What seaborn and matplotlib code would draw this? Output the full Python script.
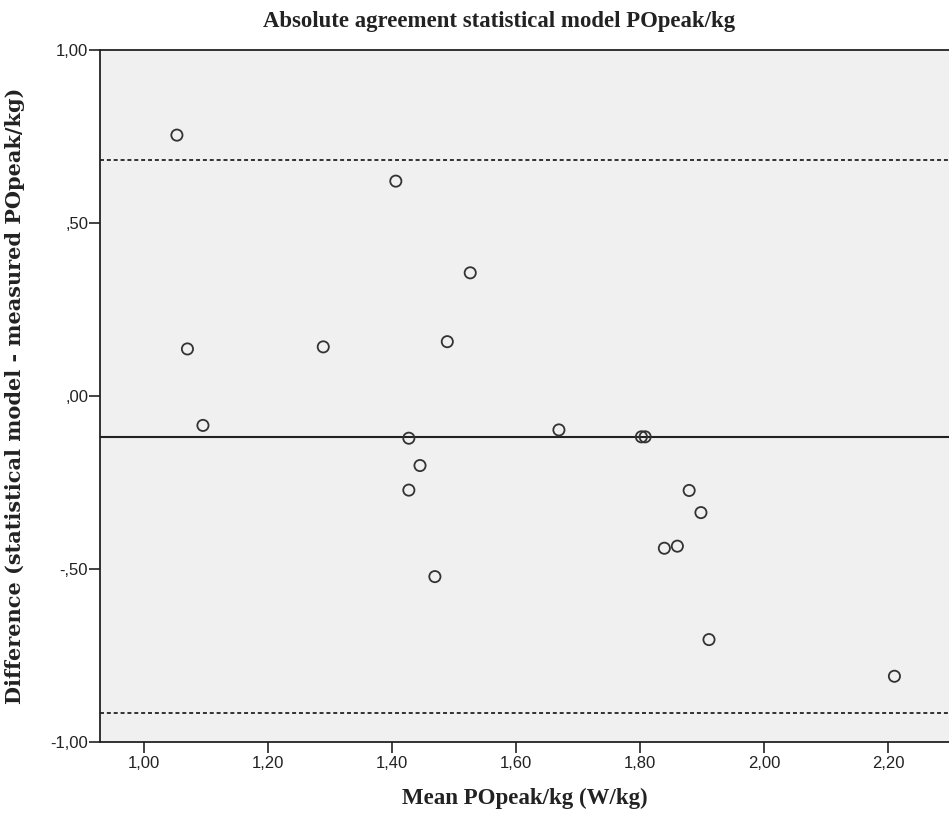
import numpy as np
import pandas as pd
import matplotlib
matplotlib.use("Agg")
import matplotlib.pyplot as plt
import seaborn as sns
from matplotlib.ticker import FuncFormatter

# Bland-Altman: mean vs difference (statistical model - measured)
mean_vals = [1.053, 1.070, 1.095, 1.289, 1.406, 1.427, 1.427, 1.445, 1.469, 1.489,
             1.526, 1.669, 1.802, 1.808, 1.839, 1.860, 1.879, 1.898, 1.911, 2.210]
diff_vals = [0.754, 0.136, -0.085, 0.142, 0.621, -0.122, -0.272, -0.201, -0.522, 0.157,
             0.356, -0.098, -0.118, -0.118, -0.440, -0.434, -0.273, -0.337, -0.704, -0.810]
bias = -0.118
upper_loa = 0.681
lower_loa = -0.916

x_ticks = [1.0, 1.2, 1.4, 1.6, 1.8, 2.0, 2.2]
y_ticks = [-1.0, -0.5, 0.0, 0.5, 1.0]

df = pd.DataFrame({"Mean": mean_vals, "Diff": diff_vals})

sns.set_style("ticks")
plt.rcParams["font.family"] = ["Liberation Sans", "DejaVu Sans"]

fig = plt.figure(figsize=(9.49, 8.16), dpi=100)
ax = fig.add_axes([100 / 949, 1 - 742 / 816, 1 - 100 / 949, (742 - 50) / 816])
ax.set_facecolor("#f0f0f0")

# limits of agreement (dashed) and mean difference (solid)
ax.axhline(upper_loa, color="#222222", lw=1.3, ls=(0, (2.2, 1.6)))
ax.axhline(lower_loa, color="#222222", lw=1.3, ls=(0, (2.2, 1.6)))
ax.axhline(bias, color="#222222", lw=1.5)

sns.scatterplot(data=df, x="Mean", y="Diff", ax=ax, marker="o", s=65,
                facecolor="none", edgecolor="#333333", linewidth=1.3, zorder=3)

ax.set_xlim(0.929, 2.298)
ax.set_ylim(-1.0, 1.0)
ax.set_xticks(x_ticks)
ax.set_yticks(y_ticks)


def comma_fmt(v, pos):
    s = f"{v:.2f}".replace(".", ",")
    if s.startswith("0,"):
        s = s[1:]
    elif s.startswith("-0,"):
        s = "-" + s[2:]
    return s


ax.xaxis.set_major_formatter(FuncFormatter(comma_fmt))
ax.yaxis.set_major_formatter(FuncFormatter(comma_fmt))
ax.tick_params(axis="both", labelsize=12, color="#222222", width=1.2,
               labelcolor="#222222", length=8)
ax.tick_params(axis="x", pad=2)
ax.tick_params(axis="y", pad=0.5)

for side in ["left", "bottom", "top"]:
    ax.spines[side].set_color("#222222")
    ax.spines[side].set_linewidth(1.3)
ax.spines["right"].set_visible(False)

serif = ["Liberation Serif", "DejaVu Serif"]
ax.set_xlabel("Mean POpeak/kg (W/kg)", family=serif, fontweight="bold", fontsize=16.5,
              color="#222222")
ax.xaxis.set_label_coords(0.5, -0.066)
ax.set_ylabel("Difference (statistical model - measured POpeak/kg)",
              family=["DejaVu Serif"], fontweight="bold", fontsize=15,
              color="#222222")
ax.yaxis.set_label_coords(-0.088, 0.5)
fig.text(499 / 949, 1 - 21 / 816, "Absolute agreement statistical model POpeak/kg",
         family=serif, fontweight="bold", fontsize=16.4, color="#222222",
         ha="center", va="center")

fig.savefig("out.png", dpi=100)
